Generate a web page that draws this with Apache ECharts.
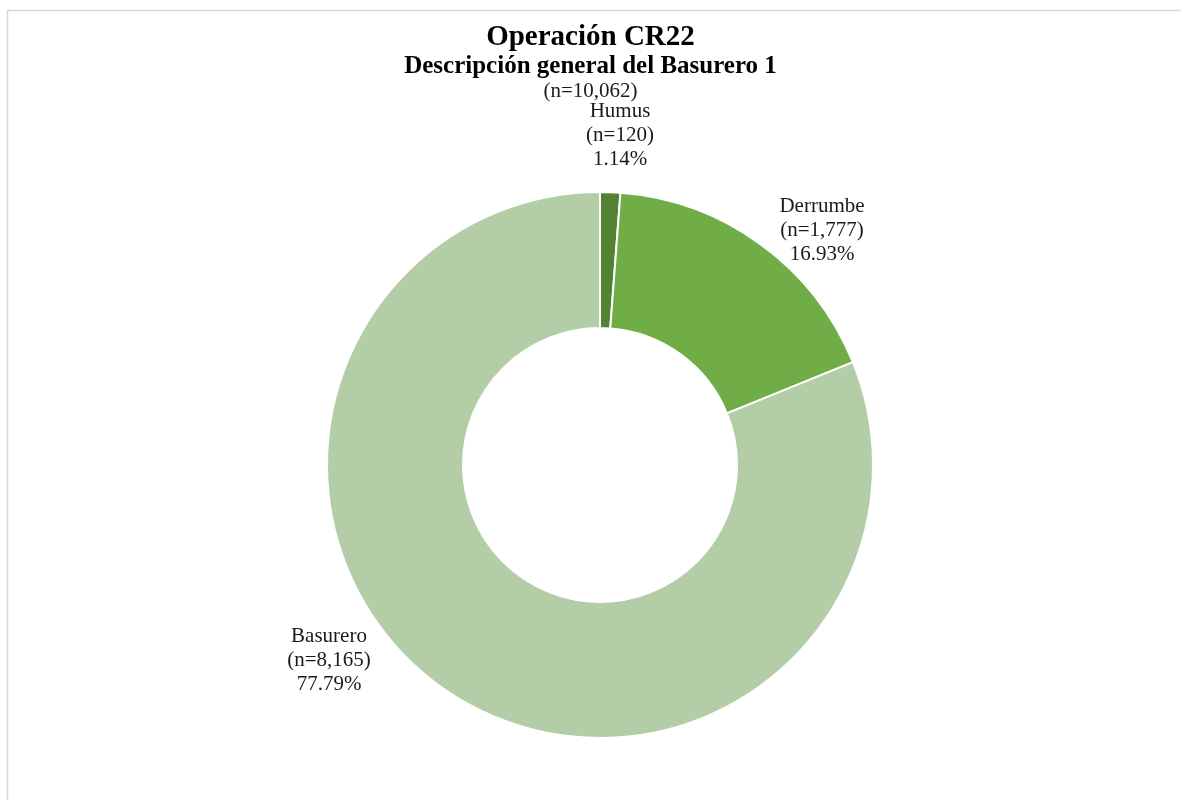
<!DOCTYPE html>
<html>
<head>
<meta charset="utf-8">
<script src="https://cdn.jsdelivr.net/npm/echarts@6/dist/echarts.min.js"></script>
<style>
html,body{margin:0;padding:0;background:#fff;}
#main{width:1181px;height:800px;}
</style>
</head>
<body>
<div id="main"></div>
<script>
const categories = ['Humus', 'Derrumbe', 'Basurero'];
const counts = [120, 1777, 8165];
const countLabels = ['120', '1,777', '8,165'];
const percentLabels = ['1.14%', '16.93%', '77.79%'];
const totalLabel = '10,062';
const colors = ['#548235', '#70ad47', '#b3cea7'];

const labelPos = [[620, 135], [822, 230], [329, 660]];

const chart = echarts.init(document.getElementById('main'));
const serif = '"Liberation Serif", "Times New Roman", serif';
chart.setOption({
  backgroundColor: '#ffffff',
  animation: false,
  graphic: [{
    type: 'rect',
    shape: {x: 7.5, y: 10.5, width: 1200, height: 820},
    style: {fill: 'none', stroke: '#d9d9d9', lineWidth: 1.5},
    silent: true
  }],
  title: [
    {text: 'Operación CR22', left: 'center', top: 18,
     textStyle: {fontFamily: serif, fontWeight: 'bold', fontSize: 29, color: '#000'}},
    {text: 'Descripción general del Basurero 1', left: 'center', top: 49,
     textStyle: {fontFamily: serif, fontWeight: 'bold', fontSize: 25, color: '#000'}},
    {text: '(n=' + totalLabel + ')', left: 'center', top: 76,
     textStyle: {fontFamily: serif, fontWeight: 'normal', fontSize: 21, color: '#1a1a1a'}}
  ],
  series: [{
    type: 'pie',
    center: [600, 465],
    radius: [137, 273],
    startAngle: 90,
    clockwise: true,
    data: categories.map((c, i) => ({name: c, value: counts[i], itemStyle: {color: colors[i]}})),
    itemStyle: {borderColor: '#ffffff', borderWidth: 2},
    label: {
      show: true,
      position: 'outside',
      formatter: p => p.name + '\n(n=' + countLabels[p.dataIndex] + ')\n' + percentLabels[p.dataIndex],
      fontFamily: serif,
      fontSize: 21,
      lineHeight: 24,
      color: '#1a1a1a',
      align: 'center'
    },
    labelLine: {show: false},
    labelLayout: p => ({
      x: labelPos[p.dataIndex][0],
      y: labelPos[p.dataIndex][1],
      align: 'center',
      verticalAlign: 'middle'
    }),
    emphasis: {disabled: true}
  }]
});
</script>
</body>
</html>
